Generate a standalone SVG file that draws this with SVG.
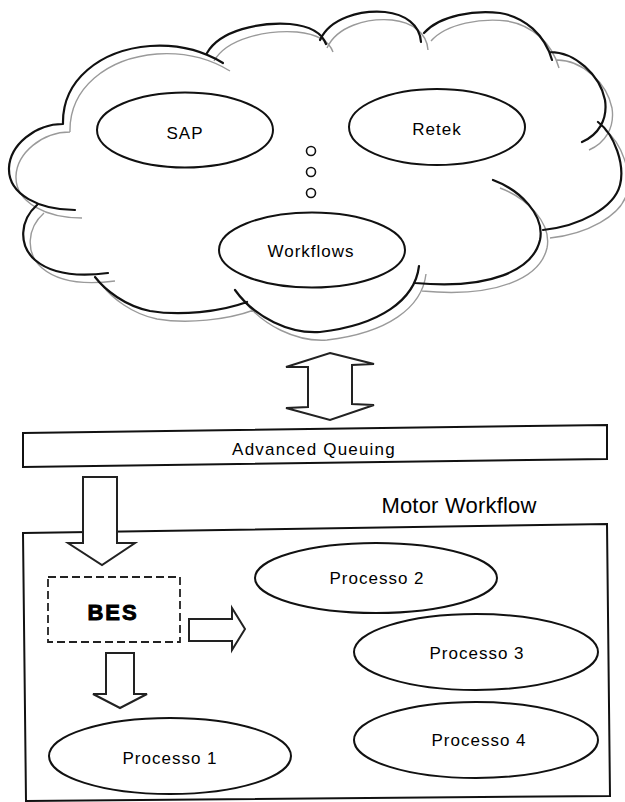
<svg xmlns="http://www.w3.org/2000/svg" xmlns:xlink="http://www.w3.org/1999/xlink" width="625" height="802" viewBox="0 0 625 802">
<style>
  .lbl { font-family: "Liberation Sans", Arial, sans-serif; font-size: 17px; fill: #000; text-anchor: middle; letter-spacing: 1px; }
  .node { fill: #fff; stroke: #111; stroke-width: 2; }
  .cloudline { fill: none; stroke: #111; stroke-width: 2.2; stroke-linecap: round; }
  .cloudshadow { fill: none; stroke: #9a9a9a; stroke-width: 1.4; }
  .arrow { fill: #fff; stroke: #222; stroke-width: 2; stroke-linejoin: miter; }
</style>
<defs>
  <path id="cloud" d="
    M63,124 C62,80 100,50 150,46 C180,44 205,52 223,63
    M207,53 C220,30 260,22 290,24 C310,26 322,33 326,44
    M320,40 C330,18 360,10 385,12 C405,14 420,25 421,42
    M424,33 C440,15 475,10 500,13 C525,17 545,35 552,60
    M550,52 C575,52 600,75 605,100 C608,120 598,135 582,142
    M598,122 C615,135 625,165 620,185 C614,208 580,226 543,230
    M493,180 C520,190 545,215 540,240 C533,270 490,290 415,283
    M419,266 C415,300 380,325 320,332 C290,334 255,318 235,290
    M247,302 C220,312 180,316 150,311 C125,306 105,290 95,277
    M37,205 C20,220 18,245 35,260 C55,277 85,276 108,273
    M63,124 C35,124 10,145 9,168 C8,195 40,210 75,210"/>
</defs>
<rect width="625" height="802" fill="#fff"/>

<g id="cloud-group">
  <use xlink:href="#cloud" href="#cloud" class="cloudshadow" transform="translate(7,8)"/>
  <use xlink:href="#cloud" href="#cloud" class="cloudline"/>
</g>

<g id="sap">
  <ellipse class="node" cx="185" cy="130" rx="88" ry="37.5"/>
  <text class="lbl" x="185" y="139">SAP</text>
</g>
<g id="retek">
  <ellipse class="node" cx="437" cy="127" rx="88" ry="38"/>
  <text class="lbl" x="437" y="135">Retek</text>
</g>
<g id="dots">
  <circle cx="311" cy="151" r="4.5" fill="none" stroke="#111" stroke-width="1.6"/>
  <circle cx="311" cy="172" r="4.5" fill="none" stroke="#111" stroke-width="1.6"/>
  <circle cx="311" cy="193" r="4.5" fill="none" stroke="#111" stroke-width="1.6"/>
</g>
<g id="workflows">
  <ellipse class="node" cx="312" cy="250" rx="93" ry="37.5"/>
  <text class="lbl" x="311" y="257">Workflows</text>
</g>

<g id="advanced-queuing">
  <polygon class="node" points="23,433 607,425 607,459 23,467"/>
  <text class="lbl" x="314" y="455" style="letter-spacing:1.2px">Advanced Queuing</text>
</g>

<g id="motor-workflow">
  <polygon class="node" points="23,533 607,524 610,796 26,801"/>
  <text x="459" y="513" style="font-family:'Liberation Sans',Arial,sans-serif;font-size:22px;letter-spacing:0.2px;text-anchor:middle;fill:#000">Motor Workflow</text>
</g>

<g id="bes">
  <rect x="48" y="577" width="132" height="65" fill="#fff" stroke="#222" stroke-width="1.8" stroke-dasharray="8,4"/>
  <text x="113" y="620" style="font-family:'Liberation Sans',Arial,sans-serif;font-size:22px;font-weight:bold;letter-spacing:2px;text-anchor:middle;fill:#000;stroke:#000;stroke-width:0.9">BES</text>
</g>

<g id="processo-1">
  <ellipse class="node" cx="170" cy="756" rx="121" ry="38"/>
  <text class="lbl" x="170" y="764">Processo 1</text>
</g>
<g id="processo-2">
  <ellipse class="node" cx="376" cy="578" rx="121" ry="35"/>
  <text class="lbl" x="377" y="584">Processo 2</text>
</g>
<g id="processo-3">
  <ellipse class="node" cx="476" cy="652" rx="122" ry="38"/>
  <text class="lbl" x="477" y="659">Processo 3</text>
</g>
<g id="processo-4">
  <ellipse class="node" cx="476" cy="740" rx="122" ry="38"/>
  <text class="lbl" x="479" y="746">Processo 4</text>
</g>

<g id="connectors">
  <polygon class="arrow" points="330,353 374,364 352,365 352,404 374,405 330,420 286,408 308,407 308,367 286,367"/>
  <polygon class="arrow" points="83,477 117,477 117,543 135,543 102,565 68,543 83,543"/>
  <polygon class="arrow" points="189,619 232,619 232,608 245,629 232,650 232,641 189,641"/>
  <polygon class="arrow" points="106,653 134,653 134,694 147,694 120,708 93,694 106,694"/>
</g>
</svg>
